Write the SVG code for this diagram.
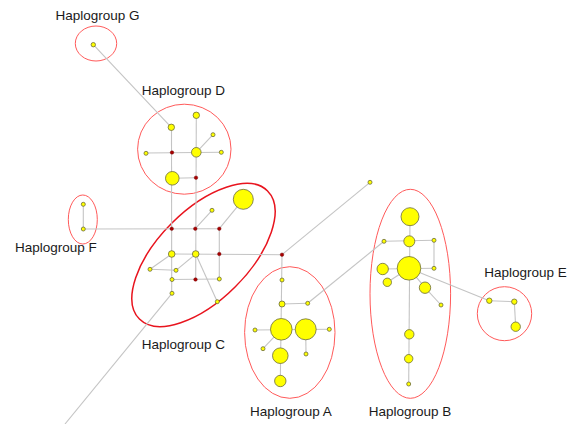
<svg xmlns="http://www.w3.org/2000/svg" width="572" height="424" viewBox="0 0 572 424">
<style>
.e{fill:none;stroke:#ff5a5a;stroke-width:1}
.ec{fill:none;stroke:#e8141e;stroke-width:1.5}
.l{fill:none;stroke:#c4c4c4;stroke-width:1.1}
.n{fill:#ffff00;stroke:#6b6b3a;stroke-width:0.8}
.r{fill:#a80000;stroke:#700000;stroke-width:0.4}
text{font-family:"Liberation Sans",Arial,sans-serif;font-size:13.5px;fill:#1a1a1a}
</style>
<rect width="572" height="424" fill="#ffffff"/>
<g id="groups">
<ellipse id="ellG" class="e" cx="96" cy="43.5" rx="20.7" ry="17.5"/>
<ellipse id="ellD" class="e" cx="184.3" cy="149.2" rx="46.7" ry="45"/>
<ellipse id="ellF" class="e" cx="82.8" cy="219.5" rx="14.5" ry="24.5"/>
<ellipse id="ellC" class="ec" cx="203.5" cy="255" rx="90.6" ry="45" transform="rotate(-45 203.5 255)"/>
<ellipse id="ellA" class="e" cx="289.8" cy="332.5" rx="45.2" ry="65.8"/>
<ellipse id="ellB" class="e" cx="410.3" cy="293.8" rx="40.3" ry="104.5"/>
<ellipse id="ellE" class="e" cx="504.5" cy="313.7" rx="27.2" ry="27"/>
</g>
<g id="connectors">
<line class="l" x1="93.3" y1="44.7" x2="171.3" y2="127.3"/>
<line class="l" x1="171.5" y1="127.3" x2="171.7" y2="293.3"/>
<line class="l" x1="196.3" y1="115.3" x2="195.7" y2="279.5"/>
<line class="l" x1="146" y1="153" x2="221.3" y2="152.3"/>
<line class="l" x1="213" y1="134.7" x2="196.3" y2="152.3"/>
<line class="l" x1="172.3" y1="178.3" x2="196" y2="177.7"/>
<line class="l" x1="83.3" y1="204.3" x2="83.3" y2="229"/>
<line class="l" x1="83.3" y1="229" x2="219.3" y2="228.7"/>
<line class="l" x1="195.3" y1="228.7" x2="212" y2="210.3"/>
<line class="l" x1="219.3" y1="228.7" x2="243.3" y2="199.3"/>
<line class="l" x1="219.3" y1="228.7" x2="219.3" y2="279"/>
<line class="l" x1="171.7" y1="254" x2="282" y2="254.7"/>
<line class="l" x1="172" y1="279.5" x2="219.3" y2="279"/>
<line class="l" x1="150" y1="269.3" x2="171.7" y2="254"/>
<line class="l" x1="150" y1="269.3" x2="176" y2="270.3"/>
<line class="l" x1="176" y1="270.3" x2="195.7" y2="254"/>
<line class="l" x1="195.7" y1="254" x2="217.3" y2="301.7"/>
<line class="l" x1="172" y1="293.3" x2="65" y2="424"/>
<line class="l" x1="282" y1="254.7" x2="370" y2="182.3"/>
<line class="l" x1="282" y1="254.7" x2="280.3" y2="381"/>
<line class="l" x1="282" y1="304" x2="307.7" y2="303.3"/>
<line class="l" x1="307.7" y1="303.3" x2="384" y2="241.3"/>
<line class="l" x1="255" y1="330" x2="329.3" y2="329.3"/>
<line class="l" x1="263" y1="348.7" x2="281.3" y2="329.3"/>
<line class="l" x1="305.7" y1="329.3" x2="306" y2="354"/>
<line class="l" x1="410" y1="216.7" x2="408.7" y2="384"/>
<line class="l" x1="384" y1="241.3" x2="434" y2="240.3"/>
<line class="l" x1="434" y1="240.3" x2="434" y2="268.3"/>
<line class="l" x1="434" y1="268.3" x2="382.7" y2="269"/>
<line class="l" x1="387.3" y1="282.3" x2="409" y2="268.3"/>
<line class="l" x1="409" y1="268.3" x2="425" y2="287.7"/>
<line class="l" x1="425" y1="287.7" x2="441" y2="305"/>
<line class="l" x1="409" y1="268.3" x2="489.3" y2="300.7"/>
<line class="l" x1="489.3" y1="300.7" x2="514.3" y2="301.7"/>
<line class="l" x1="514.3" y1="301.7" x2="515.7" y2="326.7"/>
</g>
<g id="medianVectors">
<circle class="r" cx="172" cy="152.5" r="1.8"/>
<circle class="r" cx="196" cy="177.7" r="1.8"/>
<circle class="r" cx="171.7" cy="228.7" r="1.8"/>
<circle class="r" cx="195.3" cy="228.7" r="1.8"/>
<circle class="r" cx="219.3" cy="228.7" r="1.8"/>
<circle class="r" cx="219.3" cy="254" r="1.8"/>
<circle class="r" cx="195.5" cy="279.5" r="1.8"/>
<circle class="r" cx="282" cy="254.7" r="1.8"/>
</g>
<g id="nodeG"><circle class="n" cx="93.3" cy="44.7" r="2.2"/></g>
<g id="nodesD">
<circle class="n" cx="171.3" cy="127.3" r="3.2"/>
<circle class="n" cx="196.3" cy="115.3" r="3.2"/>
<circle class="n" cx="213" cy="134.7" r="2"/>
<circle class="n" cx="146" cy="153.3" r="2"/>
<circle class="n" cx="196.3" cy="152.3" r="4.8"/>
<circle class="n" cx="221.3" cy="152.3" r="2"/>
<circle class="n" cx="172.3" cy="178.3" r="6.8"/>
</g>
<g id="nodesF">
<circle class="n" cx="83.3" cy="204.3" r="2"/>
<circle class="n" cx="83.3" cy="229" r="2"/>
</g>
<g id="nodesC">
<circle class="n" cx="243.3" cy="199.3" r="10"/>
<circle class="n" cx="212" cy="210.3" r="2"/>
<circle class="n" cx="171.7" cy="254" r="3.3"/>
<circle class="n" cx="195.7" cy="254" r="3.3"/>
<circle class="n" cx="150" cy="269.3" r="2"/>
<circle class="n" cx="176" cy="270.3" r="2"/>
<circle class="n" cx="172" cy="279.5" r="2"/>
<circle class="n" cx="219.3" cy="279" r="2"/>
<circle class="n" cx="172" cy="293.3" r="2"/>
<circle class="n" cx="217.3" cy="301.7" r="2"/>
<circle class="n" cx="370" cy="182.3" r="2"/>
</g>
<g id="nodesA">
<circle class="n" cx="282" cy="280" r="2"/>
<circle class="n" cx="282" cy="304" r="3"/>
<circle class="n" cx="307.7" cy="303.3" r="2"/>
<circle class="n" cx="281.3" cy="329.3" r="10.8"/>
<circle class="n" cx="305.7" cy="329.3" r="10.5"/>
<circle class="n" cx="255" cy="330" r="2"/>
<circle class="n" cx="329.3" cy="329.3" r="2"/>
<circle class="n" cx="263" cy="348.7" r="2"/>
<circle class="n" cx="306" cy="354" r="2"/>
<circle class="n" cx="280.3" cy="355.7" r="7.8"/>
<circle class="n" cx="280.3" cy="381" r="5.7"/>
</g>
<g id="nodesB">
<circle class="n" cx="410" cy="216.7" r="9"/>
<circle class="n" cx="409.3" cy="241.3" r="5.5"/>
<circle class="n" cx="384" cy="241.3" r="2"/>
<circle class="n" cx="434" cy="240.3" r="2"/>
<circle class="n" cx="434" cy="268.3" r="2"/>
<circle class="n" cx="409" cy="268.3" r="11.8"/>
<circle class="n" cx="382.7" cy="269" r="5.7"/>
<circle class="n" cx="387.3" cy="282.3" r="4.2"/>
<circle class="n" cx="425" cy="287.7" r="5.7"/>
<circle class="n" cx="441" cy="305" r="2"/>
<circle class="n" cx="409.3" cy="334.3" r="4.7"/>
<circle class="n" cx="408.7" cy="358.7" r="4.2"/>
<circle class="n" cx="408.7" cy="384" r="2"/>
</g>
<g id="nodesE">
<circle class="n" cx="489.3" cy="300.7" r="2.7"/>
<circle class="n" cx="514.3" cy="301.7" r="2.7"/>
<circle class="n" cx="515.7" cy="326.7" r="4.7"/>
</g>
<g id="labels">
<text x="55.5" y="20">Haplogroup G</text>
<text x="141.7" y="94.5">Haplogroup D</text>
<text x="15" y="251.5">Haplogroup F</text>
<text x="141.7" y="348.5">Haplogroup C</text>
<text x="250" y="415.5">Haplogroup A</text>
<text x="368.7" y="415.5">Haplogroup B</text>
<text x="484.3" y="277">Haplogroup E</text>
</g>
</svg>
